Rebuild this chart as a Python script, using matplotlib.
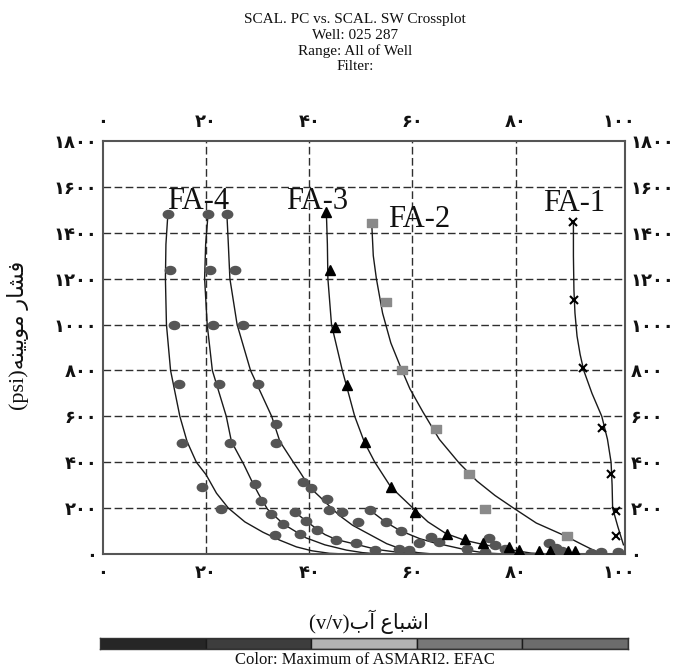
import matplotlib
matplotlib.use("Agg")
import matplotlib.pyplot as plt
from matplotlib.path import Path
from matplotlib.transforms import Affine2D
import numpy as np

plt.rcParams['font.family'] = ['DejaVu Sans']

# ---------------- data ----------------
title_lines = ["SCAL. PC vs. SCAL. SW Crossplot", "Well: 025 287", "Range: All of Well", "Filter:"]

x_tick_values = [0, 20, 40, 60, 80, 100]
x_tick_labels = ["۰", "۲۰", "۴۰", "۶۰", "۸۰", "۱۰۰"]
y_tick_values = [0, 200, 400, 600, 800, 1000, 1200, 1400, 1600, 1800]
y_tick_labels = ["۰", "۲۰۰", "۴۰۰", "۶۰۰", "۸۰۰", "۱۰۰۰", "۱۲۰۰", "۱۴۰۰", "۱۶۰۰", "۱۸۰۰"]
x_grid = [20, 40, 60, 80]
y_grid = [200, 400, 600, 800, 1000, 1200, 1400, 1600]

# FA-4 (grey circles)
fa4_x = [12.6, 20.4, 24.0, 13.0, 20.7, 25.6, 13.7, 21.4, 27.2, 14.7, 22.4, 30.1,
         15.3, 24.6, 33.5, 33.5, 19.2, 22.8, 29.4, 30.7, 32.6, 34.9, 33.4,
         38.1, 38.8, 40.4, 37.3, 39.3, 41.5, 43.4, 43.8, 46.4, 49.4, 45.1, 49.1, 52.8,
         51.7, 54.8, 57.8, 57.3, 59.4, 61.2, 63.6, 65.1, 70.5, 74.9, 76.0, 74.0, 78.0,
         86.5, 87.8, 89.0, 94.6, 96.5, 99.8]
fa4_y = [1484, 1484, 1484, 1239, 1239, 1239, 998, 998, 998, 740, 740, 740,
         482, 482, 482, 568, 292, 196, 307, 232, 175, 129, 82,
         85, 315, 289, 182, 146, 106, 240, 192, 182, 139, 63, 46, 17,
         192, 139, 101, 21, 19, 47, 73, 52, 22, 68, 38, 10, 21,
         47, 24, 12, 6, 8, 10]

# FA-3 (black triangles)
fa3_x = [43.3, 44.1, 44.9, 47.4, 50.7, 55.8, 60.4, 66.6, 70.1, 73.6, 78.8, 80.7, 84.5, 86.7, 90.2, 91.6]
fa3_y = [1491, 1239, 989, 735, 486, 292, 185, 86, 64, 49, 32, 17, 13, 13, 13, 13]

# FA-2 (grey squares)
fa2_x = [52.1, 54.8, 57.9, 64.5, 70.9, 74.0, 90.0]
fa2_y = [1441, 1097, 800, 546, 348, 194, 77]

# FA-1 (crosses)
fa1_x = [91.2, 91.4, 93.1, 96.8, 98.5, 99.5, 99.5]
fa1_y = [1449, 1105, 809, 551, 348, 188, 77]

# fitted curves
curve_a_x = [12.6, 12.2, 12.1, 12.3, 13.1, 14.9, 16.3, 18.1, 20.0, 22.0, 24.3, 27.5, 31.0, 34.3, 37.5, 40.5, 43.9, 47.0]
curve_a_y = [1490, 1350, 1200, 1000, 800, 600, 490, 400, 345, 265, 200, 140, 95, 60, 31, 14, 3, 0]
curve_b_x = [20.4, 19.9, 19.7, 20.2, 21.2, 23.9, 24.9, 27.3, 28.8, 30.2, 31.9, 35.0, 39.4, 43.0, 47.2, 50.3, 53.5]
curve_b_y = [1490, 1350, 1200, 1000, 800, 600, 490, 390, 320, 260, 195, 130, 70, 40, 17, 6, 0]
curve_c_x = [24.0, 24.3, 24.6, 26.0, 28.6, 32.7, 34.3, 36.9, 38.1, 40.1, 42.0, 44.3, 46.0, 48.4, 51.7, 55.0, 58.0, 61.0, 64.0]
curve_c_y = [1490, 1350, 1200, 1000, 800, 600, 490, 400, 360, 290, 250, 200, 165, 125, 85, 45, 20, 6, 0]
curve_d_x = [37.3, 39.0, 41.4, 43.0, 45.2, 49.1, 53.0, 57.0, 60.0, 63.0]
curve_d_y = [182, 150, 110, 85, 63, 42, 20, 8, 2, 0]
curve_e_x = [51.7, 54.8, 57.5, 61.4, 64.0, 67.8, 71.0, 74.3, 78.0]
curve_e_y = [192, 139, 103, 67, 50, 31, 15, 4, 0]
curve_fa3_x = [43.3, 43.5, 43.6, 44.3, 46.4, 48.8, 50.7, 52.7, 55.8, 60.1, 63.0, 66.5, 70.1, 73.6, 78.8, 80.7, 83.0, 86.0]
curve_fa3_y = [1491, 1350, 1200, 1000, 800, 600, 486, 400, 292, 200, 140, 89, 60, 42, 20, 12, 4, 0]
curve_fa2_x = [52.1, 52.4, 53.0, 54.2, 55.8, 57.6, 59.5, 62.0, 65.2, 69.1, 72.5, 76.0, 79.6, 84.0, 89.7, 93.0, 95.5, 96.5]
curve_fa2_y = [1440, 1300, 1200, 1050, 920, 820, 720, 620, 500, 395, 318, 255, 200, 135, 78, 40, 12, 0]
curve_fa1_x = [91.2, 91.2, 91.3, 91.5, 91.9, 92.5, 93.2, 94.8, 96.7, 97.8, 98.5, 98.7, 98.8, 99.8, 100.9]
curve_fa1_y = [1449, 1300, 1150, 1050, 950, 870, 800, 700, 600, 500, 400, 300, 200, 120, 40]

group_labels = ["FA-4", "FA-3", "FA-2", "FA-1"]
group_label_x = [18.4, 41.6, 61.2, 91.4]
group_label_y = [1535, 1535, 1458, 1527]

cb_colors = ["#262626", "#3d3d3d", "#b3b3b3", "#777777", "#6c6c6c"]
cb_text = "Color: Maximum of ASMARI2. EFAC"

# Persian labels (visual order, presentation forms)
ylabel_text = "(psi)" + "\uFEEA\uFEE8\uFBFF\uFBFE\uFEEE\uFEE3" + " " + "\uFEAD\uFE8E\uFEB8\uFED3"
xlabel_text = "(v/v)" + "\uFE8F\uFE81" + " " + "\uFEC9\uFE8E\uFE92\uFEB7\uFE8D"

# ---------------- figure ----------------
W, H = 678, 671
fig = plt.figure(figsize=(W / 100, H / 100), dpi=100)
fig.patch.set_facecolor("white")
ax = fig.add_axes([103 / W, 1 - 554 / H, 522 / W, 413 / H])

dash = (0, (5.5, 2.5))
for gx in x_grid:
    ax.axvline(gx, color="#2e2e2e", lw=1.0, ls=dash, zorder=1)
for gy in y_grid:
    ax.axhline(gy, color="#2e2e2e", lw=1.0, ls=dash, zorder=1)

for cx, cy in [(curve_a_x, curve_a_y), (curve_b_x, curve_b_y), (curve_c_x, curve_c_y),
               (curve_d_x, curve_d_y), (curve_e_x, curve_e_y), (curve_fa3_x, curve_fa3_y),
               (curve_fa2_x, curve_fa2_y), (curve_fa1_x, curve_fa1_y)]:
    ax.plot(cx, cy, color="#1a1a1a", lw=1.0, zorder=2, solid_joinstyle="round")

ellipse = Path.unit_circle().transformed(Affine2D().scale(1.3, 1.0))
ax.plot(fa4_x, fa4_y, ls="none", marker=ellipse, ms=7.5, color="#555555", mec="#555555", zorder=3)
ax.plot(fa3_x, fa3_y, ls="none", marker="^", ms=6.5, color="black", zorder=3)
rect = Path([(-1.2, -1), (1.2, -1), (1.2, 1), (-1.2, 1), (-1.2, -1)], closed=True)
ax.plot(fa2_x, fa2_y, ls="none", marker=rect, ms=7.0, color="#8a8a8a", mec="#8a8a8a", zorder=3)
ax.plot(fa1_x, fa1_y, ls="none", marker="x", ms=6.0, mew=1.5, color="black", zorder=3)

for t, tx, ty in zip(group_labels, group_label_x, group_label_y):
    ax.text(tx, ty, t, fontsize=22, family="Liberation Serif", ha="center", va="center",
            color="#111111", zorder=4)

ax.set_xlim(0, 101.2)
ax.set_ylim(0, 1800)
ax.set_xticks(x_tick_values)
ax.set_xticklabels(x_tick_labels)
ax.set_yticks(y_tick_values)
ax.set_yticklabels(y_tick_labels)
ax.tick_params(axis="both", length=0, labelsize=13, colors="#111111")
ax.tick_params(axis="x", top=True, labeltop=True, pad=7)
ax.tick_params(axis="y", right=True, labelright=True, pad=4)
for t in ax.xaxis.get_major_ticks() + ax.yaxis.get_major_ticks():
    t.label1.set_fontweight("bold")
    t.label2.set_fontweight("bold")
for sp in ax.spines.values():
    sp.set_color("#555555")
    sp.set_linewidth(1.5)

# title
title_y = [20, 35.5, 51, 66.5]
for line, ty in zip(title_lines, title_y):
    fig.text(355 / W, 1 - ty / H, line, fontsize=11, family="Liberation Serif",
             ha="center", va="center", color="#111111")

# axis labels
fig.text(18 / W, 1 - 335 / H, ylabel_text, rotation=90, fontsize=16,
         family=["Liberation Serif", "DejaVu Sans"], ha="center", va="center", color="#111111")
fig.text(369 / W, 1 - 622 / H, xlabel_text, fontsize=15,
         family=["Liberation Serif", "DejaVu Sans"], ha="center", va="center", color="#111111")

# colour bar
cax = fig.add_axes([100 / W, 1 - 649 / H, 528 / W, 11 / H])
cax.bar(np.arange(len(cb_colors)), [1] * len(cb_colors), width=1.0, color=cb_colors,
        edgecolor="#1a1a1a", lw=1.0)
cax.set_xlim(-0.5, len(cb_colors) - 0.5)
cax.set_ylim(0, 1)
cax.set_xticks([])
cax.set_yticks([])
for sp in cax.spines.values():
    sp.set_color("#333333")
    sp.set_linewidth(1.0)
fig.text(365 / W, 1 - 660 / H, cb_text, fontsize=12, family="Liberation Serif",
         ha="center", va="center", color="#111111")

fig.savefig("out.png", dpi=100, facecolor="white")
